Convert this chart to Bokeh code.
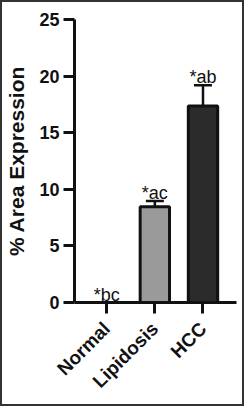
from bokeh.plotting import figure
from bokeh.models import Range1d, FixedTicker, Whisker, TeeHead, ColumnDataSource
from bokeh.core.properties import value
from bokeh.embed import file_html
from bokeh.resources import INLINE
import math

categories = ["Normal", "Lipidosis", "HCC"]
means = [0.0, 8.45, 17.35]
errors = [0.0, 0.52, 1.85]
sig_labels = ["*bc", "*ac", "*ab"]
bar_colors = ["#ffffff", "#9a9a9a", "#2b2b2b"]
y_ticks = [0, 5, 10, 15, 20, 25]

xs = list(range(len(categories)))
src = ColumnDataSource(dict(
    x=xs, top=means, hi=[m + e for m, e in zip(means, errors)],
    lab=sig_labels, color=bar_colors))

p = figure(width=244, height=406, output_backend="svg", toolbar_location=None,
           x_range=Range1d(-0.669, 2.696), y_range=Range1d(0, 25),
           min_border_left=68, min_border_right=10, min_border_top=17, min_border_bottom=106,
           styles={"border": "2px solid #333333"})
p.outline_line_color = None
p.grid.visible = False
p.background_fill_color = "white"
p.border_fill_color = "white"

wh = Whisker(base="x", lower="top", upper="hi", source=src, line_width=2.5, line_color="#111111",
             upper_head=TeeHead(size=18, line_width=2.5, line_color="#111111"), lower_head=None)
p.add_layout(wh)

p.vbar(x="x", top="top", width=0.61, source=src, fill_color="color",
       line_color="#111111", line_width=3)

p.text(x="x", y="hi", text="lab", source=src, text_align="center", text_baseline="alphabetic",
       y_offset=-8, text_font=value("Liberation Sans"), text_font_size="18px", text_color="#111111")

ya = p.yaxis[0]
ya.ticker = FixedTicker(ticks=y_ticks)
ya.axis_label = "% Area Expression"
ya.axis_label_text_font = "Liberation Sans"
ya.axis_label_text_font_style = "bold"
ya.axis_label_text_font_size = "21px"
ya.axis_label_text_color = "#111111"
ya.axis_label_standoff = 8
ya.major_label_text_font = "Liberation Sans"
ya.major_label_text_font_style = "bold"
ya.major_label_text_font_size = "18px"
ya.major_label_text_color = "#111111"
ya.major_label_standoff = 4
ya.major_tick_in = 0
ya.major_tick_out = 11
ya.minor_tick_out = 0
ya.minor_tick_in = 0
ya.axis_line_width = 3
ya.major_tick_line_width = 3
ya.axis_line_color = "#111111"
ya.major_tick_line_color = "#111111"

xa = p.xaxis[0]
xa.ticker = FixedTicker(ticks=xs)
xa.major_label_overrides = {i: c for i, c in zip(xs, categories)}
xa.major_label_orientation = math.pi / 4
xa.major_label_text_font = "Liberation Sans"
xa.major_label_text_font_style = "bold"
xa.major_label_text_font_size = "19px"
xa.major_label_text_color = "#111111"
xa.major_label_standoff = 12
xa.major_tick_in = 0
xa.major_tick_out = 11
xa.minor_tick_out = 0
xa.minor_tick_in = 0
xa.axis_line_width = 3
xa.major_tick_line_width = 3
xa.axis_line_color = "#111111"
xa.major_tick_line_color = "#111111"

open("out.html", "w").write(file_html(p, INLINE))
